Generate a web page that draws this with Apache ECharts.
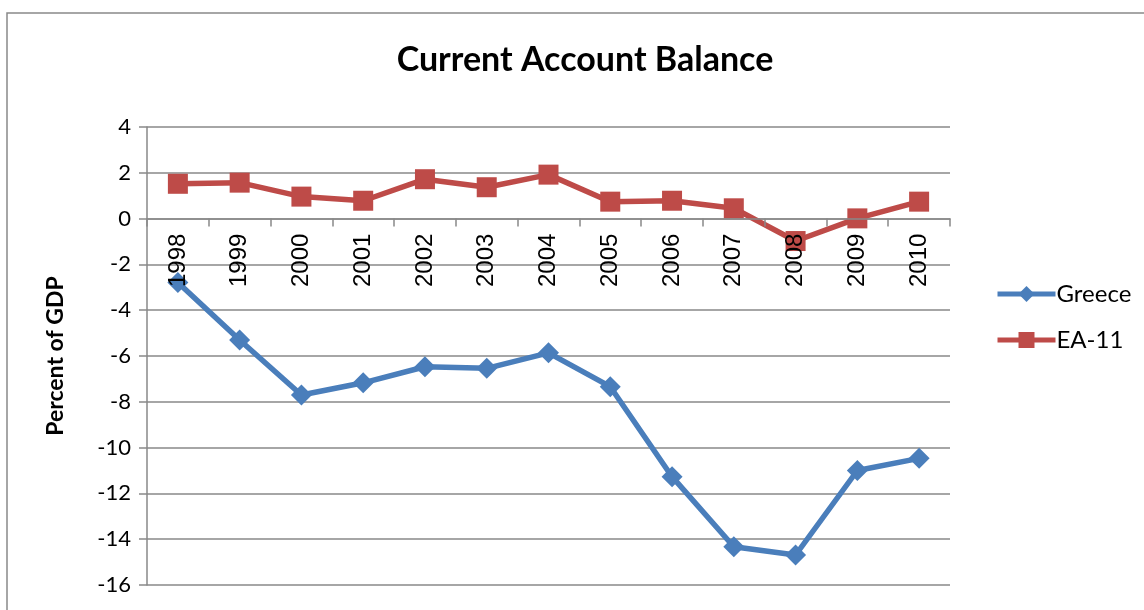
<!DOCTYPE html>
<html>
<head>
<meta charset="utf-8">
<script src="https://cdn.jsdelivr.net/npm/echarts@6/dist/echarts.min.js"></script>
<style>
  html, body { margin: 0; padding: 0; background: #fff; }
  #chart { width: 1144px; height: 610px; }
</style>
</head>
<body>
<div id="chart"></div>
<script>
  // data
  const years = ['1998', '1999', '2000', '2001', '2002', '2003', '2004', '2005', '2006', '2007', '2008', '2009', '2010'];
  const greece = [-2.79, -5.3, -7.7, -7.17, -6.47, -6.54, -5.86, -7.34, -11.27, -14.33, -14.69, -11.0, -10.47];
  const ea11 = [1.52, 1.57, 0.96, 0.78, 1.72, 1.37, 1.92, 0.74, 0.78, 0.45, -0.98, 0.01, 0.74];

  const gridColor = '#898989';
  const chart = echarts.init(document.getElementById('chart'));
  chart.setOption({
    animation: false,
    title: {
      text: 'Current Account Balance',
      left: 580,
      textAlign: 'center',
      top: 38,
      textStyle: { fontFamily: 'Lato', fontWeight: 'bold', fontSize: 34, color: '#000' }
    },
    graphic: [{
      type: 'rect',
      shape: { x: 7, y: 13, width: 1160, height: 620 },
      style: { fill: 'none', stroke: gridColor, lineWidth: 1.5 },
      silent: true
    }],
    legend: {
      orient: 'vertical',
      left: 990,
      top: 277,
      itemGap: 22,
      itemWidth: 58,
      itemHeight: 20,
      lineStyle: { width: 5 },
      textStyle: { fontFamily: 'Lato', fontSize: 24, color: '#000', padding: [0, 0, 0, -4] },
      data: ['Greece', 'EA-11']
    },
    grid: { left: 147, right: 194, top: 127, bottom: 25, outerBoundsMode: 'none', containLabel: false },
    xAxis: {
      type: 'category',
      data: years,
      z: 5,
      axisLine: { onZero: false, lineStyle: { color: gridColor, width: 1.5 } },
      axisTick: { show: true, length: 8, lineStyle: { color: gridColor, width: 1.5 } },
      axisLabel: {
        rotate: 90,
        margin: 15,
        fontFamily: 'Liberation Sans',
        fontSize: 24,
        color: '#000'
      }
    },
    yAxis: {
      type: 'value',
      min: -16,
      max: 4,
      interval: 2,
      name: 'Percent of GDP',
      nameLocation: 'middle',
      nameGap: 80,
      nameTextStyle: { fontFamily: 'Lato', fontWeight: 'bold', fontSize: 23, color: '#000' },
      axisLine: { show: true, lineStyle: { color: gridColor, width: 1.5 } },
      axisTick: { show: true, length: 8, lineStyle: { color: gridColor, width: 1.5 } },
      axisLabel: { margin: 16, fontFamily: 'Lato', fontSize: 22, color: '#000' },
      splitLine: { lineStyle: { color: gridColor, width: 1.5 } }
    },
    series: [{
      name: 'Greece',
      type: 'line',
      data: greece,
      symbol: 'diamond',
      symbolSize: 21,
      itemStyle: { color: '#4A7EBB' },
      lineStyle: { color: '#4A7EBB', width: 5.5 }
    }, {
      name: 'EA-11',
      type: 'line',
      data: ea11,
      symbol: 'rect',
      symbolSize: 20,
      itemStyle: { color: '#BE4B48' },
      lineStyle: { color: '#BE4B48', width: 5.5 }
    }]
  });

  // move the category axis (line, ticks and labels) up to y = 0
  const zeroY = chart.convertToPixel({ yAxisIndex: 0 }, 0);
  const bottomY = chart.convertToPixel({ yAxisIndex: 0 }, -16);
  chart.setOption({ xAxis: { offset: zeroY - bottomY } });
</script>
</body>
</html>
